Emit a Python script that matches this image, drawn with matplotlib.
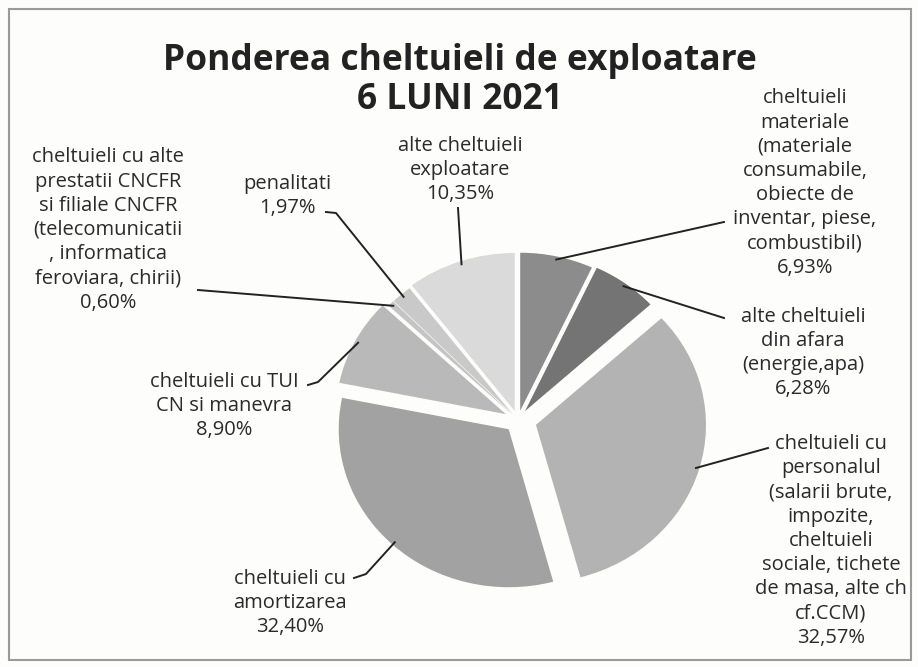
import numpy as np
import matplotlib
matplotlib.use("Agg")
import matplotlib.pyplot as plt
from matplotlib.patches import Rectangle

plt.rcParams["font.family"] = ["Open Sans", "DejaVu Sans"]

# data (clockwise from 12 o'clock)
labels = [
    "cheltuieli\nmateriale\n(materiale\nconsumabile,\nobiecte de\ninventar, piese,\ncombustibil)\n6,93%",
    "alte cheltuieli\ndin afara\n(energie,apa)\n6,28%",
    "cheltuieli cu\npersonalul\n(salarii brute,\nimpozite,\ncheltuieli\nsociale, tichete\nde masa, alte ch\ncf.CCM)\n32,57%",
    "cheltuieli cu\namortizarea\n32,40%",
    "cheltuieli cu TUI\nCN si manevra\n8,90%",
    "cheltuieli cu alte\nprestatii CNCFR\nsi filiale CNCFR\n(telecomunicatii\n, informatica\nferoviara, chirii)\n0,60%",
    "penalitati\n1,97%",
    "alte cheltuieli\nexploatare\n10,35%",
]
values = [6.93, 6.28, 32.57, 32.40, 8.90, 0.60, 1.97, 10.35]
colors = ["#8c8c8c", "#747474", "#b3b3b3", "#a2a2a2", "#b9b9b9", "#c4c4c4", "#c9c9c9", "#dadada"]
explode = [0.06, 0.07, 0.11, 0.08, 0.08, 0.05, 0.05, 0.06]

W, H = 918, 667
fig = plt.figure(figsize=(W / 100, H / 100), dpi=100)
fig.patch.set_facecolor("#fdfdfb")

def Y(y):
    return H - y

# pie in its own axes, slightly squashed to mimic the tilted look
cx, cy, rx, ry = 518, 420, 170, 158
pax = fig.add_axes([(cx - rx * 1.5) / W, (Y(cy) - ry * 1.5) / H, rx * 3 / W, ry * 3 / H])
wedges, _ = pax.pie(values, colors=colors, startangle=90, counterclock=False,
                    explode=explode, radius=1, wedgeprops=dict(linewidth=0))
pax.set_xlim(-1.5, 1.5)
pax.set_ylim(-1.5, 1.5)
pax.set_aspect("auto")
pax.axis("off")

# overlay in pixel coords for text and leader lines
ax = fig.add_axes([0, 0, 1, 1])
ax.set_xlim(0, W)
ax.set_ylim(0, H)
ax.axis("off")
ax.patch.set_alpha(0)

ax.add_patch(Rectangle((9, 7), W - 16, H - 16, fill=False, edgecolor="#9a9a9a", lw=1.5))

ax.text(460, Y(61), "Ponderea cheltuieli de exploatare", ha="center", va="center",
        fontsize=25.5, fontweight="bold", color="#222222")
ax.text(460, Y(100), "6 LUNI 2021", ha="center", va="center",
        fontsize=25.5, fontweight="bold", color="#222222")

# label text centres and leader line paths (pixel coords of the picture)
text_pos = [(805, 183), (803, 353), (831, 541), (290, 603), (224, 406), (108, 230), (287, 196), (460, 170)]
bends = [
    [(724, 222)],
    [(724, 318)],
    [(768, 448)],
    [(366, 574), (354, 578)],
    [(318, 382), (308, 385)],
    [(198, 290)],
    [(336, 213), (326, 212)],
    [(458, 208)],
]

fig.canvas.draw()
to_px = pax.transData + ax.transData.inverted()
for w, lab, (tx, ty), pts in zip(wedges, labels, text_pos, bends):
    ang = np.deg2rad((w.theta1 + w.theta2) / 2)
    wx, wy = w.center
    x0, y0 = to_px.transform((wx + 0.98 * np.cos(ang), wy + 0.98 * np.sin(ang)))
    xs = [x0] + [p[0] for p in pts]
    ys = [y0] + [Y(p[1]) for p in pts]
    ax.plot(xs, ys, color="#222222", lw=1.4)
    ax.text(tx, Y(ty), lab, ha="center", va="center", fontsize=14.5,
            color="#2a2a2a", linespacing=1.28)

plt.savefig("out.png", dpi=100, facecolor=fig.get_facecolor())
